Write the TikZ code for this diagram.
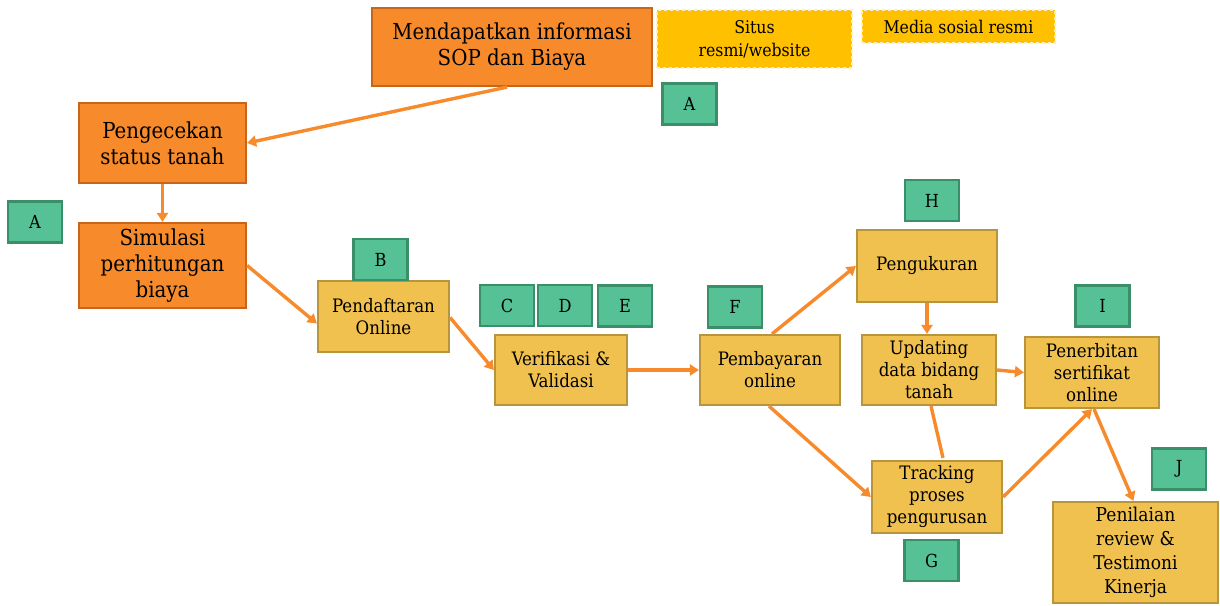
\documentclass[tikz,border=0pt]{standalone}
\usepackage{fontspec}
\setmainfont{DejaVu Serif Condensed}
\usetikzlibrary{arrows.meta}
\definecolor{orfill}{HTML}{F78B2B}
\definecolor{ordraw}{HTML}{C8651C}
\definecolor{yefill}{HTML}{F1C14F}
\definecolor{yedraw}{HTML}{B8943C}
\definecolor{gofill}{HTML}{FFC000}
\definecolor{grfill}{HTML}{55C194}
\definecolor{grdraw}{HTML}{3A8F68}
\definecolor{link}{HTML}{F78B2B}
\tikzset{
  box/.style={rectangle, line width=2.2pt, align=center, inner sep=2pt, text=black},
  obox/.style={box, fill=orfill, draw=ordraw, font=\fontsize{22}{26}\selectfont},
  ybox/.style={box, fill=yefill, draw=yedraw, font=\fontsize{18.5}{22}\selectfont},
  dbox/.style={box, fill=gofill, draw=white!75!gofill, dashed, line width=1.6pt, font=\fontsize{17.5}{23}\selectfont},
  tag/.style={box, fill=grfill, draw=grdraw, minimum width=54pt, minimum height=41pt, font=\fontsize{18}{20}\selectfont},
  flow/.style={draw=link, line width=3.4pt, -{Triangle[length=9pt,width=11pt]}},
  plain/.style={draw=link, line width=3.4pt},
}
\begin{document}
\begin{tikzpicture}[x=1pt,y=-1pt]
\useasboundingbox (0,0) rectangle (1220,605);
% source of information
\node[obox, minimum width=280pt, minimum height=78pt] (info) at (512,47) {Mendapatkan informasi\\SOP dan Biaya};
\node[dbox, minimum width=195pt, minimum height=58pt] (situs) at (754.5,39) {Situs\\resmi/website};
\node[dbox, minimum width=193pt, minimum height=33pt] (medsos) at (958.5,26.5) {Media sosial resmi};
% preparation steps
\node[obox, minimum width=167pt, minimum height=80pt] (cek) at (162.5,143) {Pengecekan\\status tanah};
\node[obox, minimum width=167pt, minimum height=85pt] (sim) at (162.5,265.5) {Simulasi\\perhitungan\\biaya};
% online process
\node[ybox, minimum width=131pt, minimum height=71pt] (daftar) at (383.5,316.5) {Pendaftaran\\Online};
\node[ybox, minimum width=132pt, minimum height=70pt] (verif) at (561,370) {Verifikasi \&\\Validasi};
\node[ybox, minimum width=140pt, minimum height=70pt] (bayar) at (770,370) {Pembayaran\\online};
\node[ybox, minimum width=140pt, minimum height=72pt] (ukur) at (927,266) {Pengukuran};
\node[ybox, minimum width=134pt, minimum height=70pt, inner sep=0pt] (update) at (929,370) {Updating\\data bidang\\tanah};
\node[ybox, minimum width=134pt, minimum height=71pt, inner sep=0pt] (terbit) at (1092,372.5) {Penerbitan\\sertifikat\\online};
\node[ybox, minimum width=130pt, minimum height=72pt, inner sep=0pt] (track) at (937,497) {Tracking\\proses\\pengurusan};
\node[ybox, minimum width=165pt, minimum height=101pt, font=\fontsize{19}{24}\selectfont] (nilai) at (1135.5,552.5) {Penilaian\\review \&\\Testimoni\\Kinerja};
% letter tags
\node[tag] (tA1) at (689.5,104) {A};
\node[tag] (tA2) at (35,222) {A};
\node[tag] (tB) at (380.5,259.5) {B};
\node[tag] (tC) at (507,305.5) {C};
\node[tag] (tD) at (565,305.5) {D};
\node[tag] (tE) at (625,306) {E};
\node[tag] (tF) at (735,307) {F};
\node[tag] (tH) at (932,200.5) {H};
\node[tag] (tI) at (1102.5,306) {I};
\node[tag] (tJ) at (1179,469) {J};
\node[tag] (tG) at (931.5,560.5) {G};
% connectors
\draw[flow] ([xshift=-5pt]info.south) -- (cek.east);
\draw[flow] (cek.south) -- (sim.north);
\draw[flow] (sim.east) -- ([yshift=-7pt]daftar.west);
\draw[flow] ([yshift=-1pt]daftar.east) -- (verif.west);
\draw[flow] (verif.east) -- (bayar.west);
\draw[flow] ([xshift=2pt]bayar.north) -- (ukur.west);
\draw[flow] (ukur.south) -- ([xshift=-2pt]update.north);
\draw[flow] (update.east) -- (terbit.west);
\draw[flow] ([xshift=-1pt]bayar.south) -- (track.west);
\draw[plain] ([xshift=2pt]update.south) -- ([xshift=6pt,yshift=2pt]track.north);
\draw[flow] (track.east) -- (terbit.south);
\draw[flow] ([xshift=2pt]terbit.south) -- ([xshift=-2pt]nilai.north);
\end{tikzpicture}
\end{document}
